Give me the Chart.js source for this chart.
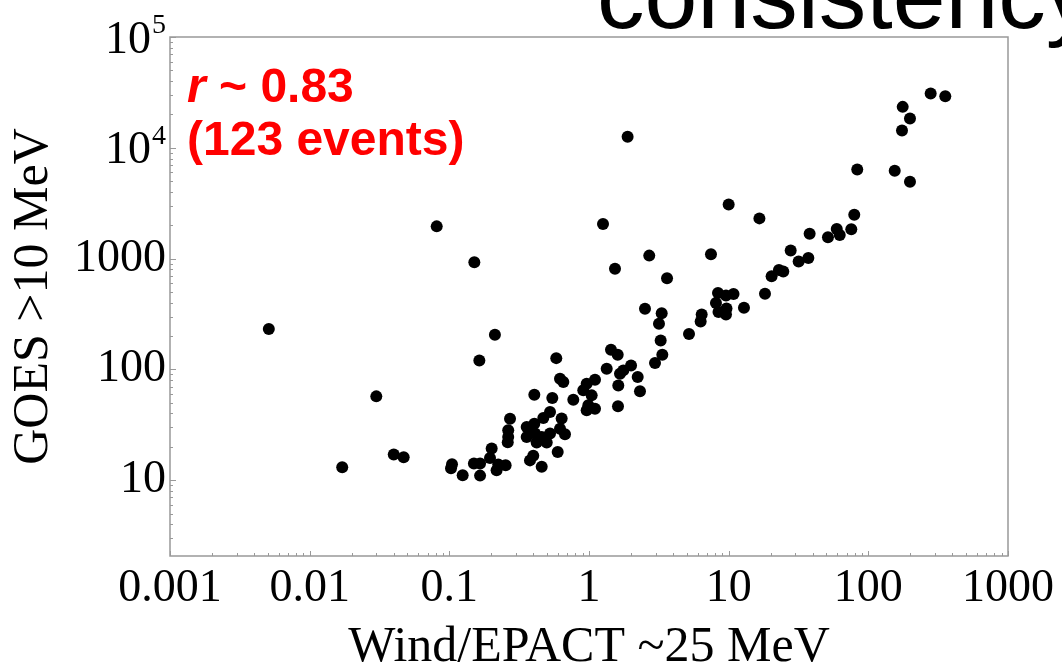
<!DOCTYPE html>
<html>
<head>
<meta charset="utf-8">
<title>Wind/EPACT vs GOES</title>
<script src="https://cdn.jsdelivr.net/npm/chart.js@4.4.1/dist/chart.umd.min.js"></script>
<style>
  html, body { margin: 0; padding: 0; background: #fff; overflow: hidden; }
  #wrap { position: relative; width: 1062px; height: 670px; }
  #chart { position: absolute; left: 0; top: 0; }
  #slideTitle {
    position: absolute; left: 597px; top: -52px;
    font: 95px "Liberation Sans", Arial, sans-serif; line-height: 1;
    color: #000; white-space: nowrap;
  }
</style>
</head>
<body>
<div id="wrap">
  <canvas id="chart" width="1062" height="670"></canvas>
  <div id="slideTitle">consistency</div>
</div>
<script>
// Wind/EPACT ~25 MeV peak intensity (x) against GOES >10 MeV (y), one entry per event
const windEpact = [
  0.0051, 0.0171, 0.030, 0.040, 0.0471, 0.0812, 0.151, 0.164, 0.212, 0.406,
  1.89, 1.26, 2.70, 1.535, 3.62, 7.47, 10.0, 16.6, 18.2,
  0.1045, 0.1028, 0.1246, 0.150, 0.166, 0.166, 0.201, 0.1955, 0.224, 0.253, 0.218,
  0.272, 0.264, 0.264, 0.262,
  0.526, 0.471, 0.637, 0.406, 0.358, 0.620, 0.358, 0.4105, 0.4585, 0.526, 0.673,
  0.422, 0.498, 0.597, 0.399, 0.378, 0.4585,
  0.546, 0.772, 0.620, 0.655, 0.583, 0.9625, 1.104, 0.910, 1.045, 0.989, 1.104, 0.9625,
  1.339, 1.437, 1.605, 2.00, 1.76, 1.667, 2.232, 1.621, 2.318, 1.613,
  2.517, 3.315, 3.17, 3.26, 3.35, 2.97, 5.2,
  6.41, 6.30, 8.39, 9.57, 10.83, 8.11, 9.65, 8.46, 9.57, 12.87,
  20.3, 22.9, 24.6, 27.8, 31.7, 37.2, 38.0, 51.4, 59.4, 62.4, 75.5, 79.3,
  83.3, 154.5, 198.7, 174.2, 198.7, 176.2, 279.5, 355.6
];
const goes = [
  231, 13.1, 57.1, 17.1, 16.1, 1954, 926, 120.5, 205.5, 59.2,
  12560, 2054, 1064, 808, 664, 1093, 3084, 2307, 481,
  13.9, 12.8, 11.1, 14.15, 14.15, 11.0, 19.3, 15.9, 13.85, 13.65, 12.3,
  35.8, 28.2, 24.5, 22.0,
  41.2, 36.4, 36.0, 32.4, 30.2, 29.2, 24.5, 26.4, 24.5, 26.4, 26.0,
  21.9, 21.9, 18.0, 16.6, 15.1, 13.2,
  55.1, 53.3, 82.5, 76.8, 126.4, 74.3, 80.8, 64.7, 58.3, 47.4, 44.2, 42.7,
  101.5, 150.5, 135.6, 108.6, 98.0, 91.5, 85.3, 71.7, 63.4, 46.4,
  352, 321.5, 258, 182.5, 135.6, 114, 208.8,
  313, 270.6, 489, 464, 478.8, 397, 354, 329.6, 313, 359.6,
  692.6, 791, 763.7, 1181, 939.7, 1014.6, 1680, 1555, 1852, 1635, 1837, 2491,
  6376, 6206, 4940, 14317, 18365, 23410, 30856, 29234
];

const xTickValues = [0.001, 0.01, 0.1, 1, 10, 100, 1000];
const xTickLabels = ['0.001', '0.01', '0.1', '1', '10', '100', '1000'];
const yTickValues = [10, 100, 1000, 10000, 100000];
const yTickLabels = ['10', '100', '1000', '10^4', '10^5'];

const xTitle = 'Wind/EPACT ~25 MeV';
const yTitle = 'GOES >10 MeV';
const corrLabel = ' ~ 0.83';
const eventsLabel = '(123 events)';

const serif = '"Liberation Serif", "Times New Roman", serif';
const sans = '"Liberation Sans", Arial, sans-serif';
const frameColor = '#999';

// minor tick values 1..9 x 10^n that fall inside [min, max]
function logSteps(min, max) {
  const out = [];
  for (let d = Math.floor(Math.log10(min)); d <= Math.ceil(Math.log10(max)); d++) {
    for (let k = 1; k < 10; k++) {
      const v = k * Math.pow(10, d);
      if (v >= min * 0.999 && v <= max * 1.001) out.push(v);
    }
  }
  return out;
}

const isMajor = (list, v) => list.some(t => Math.abs(t - v) < 1e-6 * t);

const framePlugin = {
  id: 'frame',
  beforeDatasetsDraw(chart) {
    const { ctx, chartArea: a, scales: { x, y } } = chart;
    ctx.save();
    ctx.strokeStyle = frameColor;
    ctx.lineWidth = 1.5;
    ctx.strokeRect(a.left, a.top, a.right - a.left, a.bottom - a.top);
    ctx.lineWidth = 1;
    ctx.beginPath();
    logSteps(x.min, x.max).forEach(v => {
      const px = Math.round(x.getPixelForValue(v)) + 0.5;
      const len = isMajor(xTickValues, v) ? 5 : 3;
      ctx.moveTo(px, a.bottom);
      ctx.lineTo(px, a.bottom - len);
    });
    logSteps(y.min, y.max).forEach(v => {
      const py = Math.round(y.getPixelForValue(v)) + 0.5;
      const len = isMajor(yTickValues, v) ? 6 : 3;
      ctx.moveTo(a.left, py);
      ctx.lineTo(a.left + len, py);
    });
    ctx.stroke();
    ctx.restore();
  },
  afterDatasetsDraw(chart) {
    const { ctx, chartArea: a, scales: { y } } = chart;

    // power-of-ten labels with a real superscript exponent
    ctx.save();
    ctx.fillStyle = '#000';
    ctx.textAlign = 'right';
    ctx.textBaseline = 'alphabetic';
    yTickLabels.forEach((lab, i) => {
      if (!lab.includes('^')) return;
      const [base, exp] = lab.split('^');
      const py = y.getPixelForValue(yTickValues[i]);
      const right = a.left - 4;
      ctx.font = '28px ' + serif;
      ctx.fillText(exp, right, py - 4);
      const ew = ctx.measureText(exp).width;
      ctx.font = '46px ' + serif;
      ctx.fillText(base, right - ew - 1, py + 15.5);
    });
    ctx.restore();

    const x0 = a.left + 17;
    ctx.save();
    ctx.fillStyle = '#ff0000';
    ctx.textBaseline = 'alphabetic';
    ctx.font = 'italic bold 48px ' + sans;
    ctx.fillText('r', x0, a.top + 65);
    const w = ctx.measureText('r').width;
    ctx.font = 'bold 48px ' + sans;
    ctx.fillText(corrLabel, x0 + w, a.top + 65);
    ctx.fillText(eventsLabel, x0, a.top + 118);
    ctx.restore();
  }
};

const points = windEpact.map((v, i) => ({ x: v, y: goes[i] }));

new Chart(document.getElementById('chart'), {
  type: 'scatter',
  data: {
    datasets: [{
      data: points,
      backgroundColor: '#000',
      borderWidth: 0,
      pointRadius: 6,
      pointHoverRadius: 6
    }]
  },
  options: {
    responsive: false,
    animation: false,
    layout: { padding: { top: 37, right: 54, left: 0, bottom: 0 } },
    plugins: { legend: { display: false }, tooltip: { enabled: false } },
    scales: {
      x: {
        type: 'logarithmic',
        min: 0.001,
        max: 1000,
        afterBuildTicks: s => { s.ticks = xTickValues.map(v => ({ value: v })); },
        afterFit: s => { s.height = 114; s.paddingLeft = 0; s.paddingRight = 0; },
        grid: { display: false, drawTicks: false },
        border: { display: false },
        ticks: {
          autoSkip: false, maxRotation: 0, minRotation: 0, padding: 5,
          color: '#000', font: { family: serif, size: 46 },
          callback: (v, i) => xTickLabels[i]
        },
        title: {
          display: true, text: xTitle, color: '#000',
          font: { family: serif, size: 50 }, padding: { top: 0, bottom: -8 }
        }
      },
      y: {
        type: 'logarithmic',
        min: 2.07,
        max: 100000,
        afterBuildTicks: s => { s.ticks = yTickValues.map(v => ({ value: v })); },
        afterFit: s => { s.width = 170; s.paddingTop = 0; s.paddingBottom = 0; },
        grid: { display: false, drawTicks: false },
        border: { display: false },
        ticks: {
          autoSkip: false, padding: 4,
          color: '#000', font: { family: serif, size: 46 },
          // exponent labels are drawn by the frame plugin
          callback: (v, i) => (yTickLabels[i].includes('^') ? '' : yTickLabels[i])
        },
        title: {
          display: true, text: yTitle, color: '#000',
          font: { family: serif, size: 50 }, padding: { top: 4, bottom: 0 }
        }
      }
    }
  },
  plugins: [framePlugin]
});
</script>
</body>
</html>
